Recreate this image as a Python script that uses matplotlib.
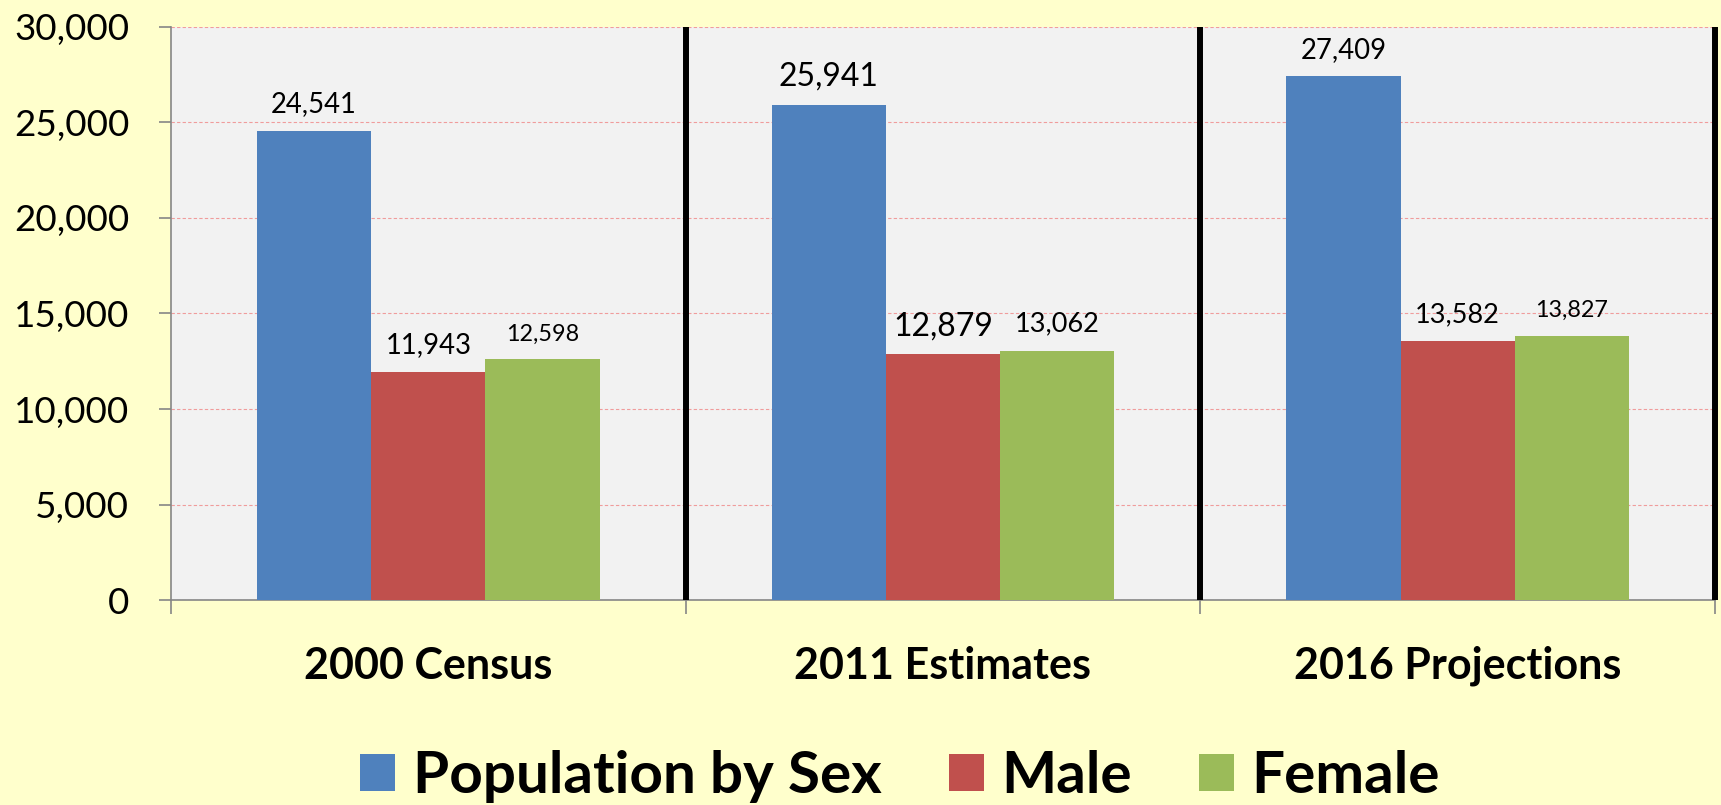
import numpy as np
import matplotlib
matplotlib.use("Agg")
import matplotlib.pyplot as plt
from matplotlib.patches import Patch
from matplotlib.ticker import FuncFormatter

plt.rcParams['font.family'] = ['Lato', 'DejaVu Sans']

# Data
categories = ["2000 Census", "2011 Estimates", "2016 Projections"]
series_names = ["Population by Sex", "Male", "Female"]
total = [24541, 25941, 27409]
male = [11943, 12879, 13582]
female = [12598, 13062, 13827]

colors = ["#4F81BD", "#C0504D", "#9BBB59"]
# label font sizes per bar (the source chart uses mixed sizes)
label_sizes = [[19.8, 23, 19.8], [19.8, 23, 19.5], [16.8, 19.5, 16.8]]

fig = plt.figure(figsize=(17.21, 8.05), dpi=100, facecolor="#FFFFCC")
ax = fig.add_axes([171 / 1721, 1 - 600 / 805, (1715 - 171) / 1721, (600 - 27) / 805])
ax.set_facecolor("#F2F2F2")

x = np.arange(len(categories))
w = 0.222
for i, (vals, col) in enumerate(zip([total, male, female], colors)):
    bars = ax.bar(x + (i - 1) * w, vals, width=w, color=col, label=series_names[i], zorder=3)
    for j, b in enumerate(bars):
        ax.annotate(f"{vals[j]:,}", (b.get_x() + b.get_width() / 2, b.get_height()),
                    xytext=(0, 13.5), textcoords="offset points",
                    ha="center", va="baseline", fontsize=label_sizes[i][j], zorder=4)

ax.set_xlim(-0.5, 2.5)
ax.set_ylim(0, 30000)
ax.set_yticks(np.arange(0, 30001, 5000))
ax.yaxis.set_major_formatter(FuncFormatter(lambda v, p: f"{int(v):,}"))
ax.grid(axis="y", color="#F08080", linestyle=(0, (3, 2)), linewidth=0.8, alpha=0.75, zorder=1)

# category labels on major ticks, tick marks on group boundaries
ax.set_xticks(x)
ax.set_xticklabels(categories, fontsize=31, fontweight="bold")
ax.set_xticks([-0.5, 0.5, 1.5, 2.5], minor=True)
ax.tick_params(axis="x", which="major", length=0, pad=33)
ax.tick_params(axis="x", which="minor", length=10, width=1.2, color="#868686")
ax.tick_params(axis="y", length=9, width=1.2, color="#868686", labelsize=26.5, pad=21)

for s in ["top", "right"]:
    ax.spines[s].set_visible(False)
for s in ["left", "bottom"]:
    ax.spines[s].set_color("#868686")
    ax.spines[s].set_linewidth(1.2)

# thick black separators between groups
for xv in [0.5, 1.5, 2.5]:
    ax.axvline(xv, color="black", linewidth=4.3, zorder=5, clip_on=False, solid_capstyle="butt")

handles = [Patch(facecolor=c, edgecolor="none") for c in colors]
fig.legend(handles, series_names, loc="center", bbox_to_anchor=(0.523, 0.035),
           ncol=3, frameon=False, prop={"size": 42, "weight": "bold"},
           handlelength=0.6, handleheight=0.6, handletextpad=0.3, columnspacing=1.15,
           borderpad=0)

fig.savefig("out.png", dpi=100, facecolor=fig.get_facecolor())
